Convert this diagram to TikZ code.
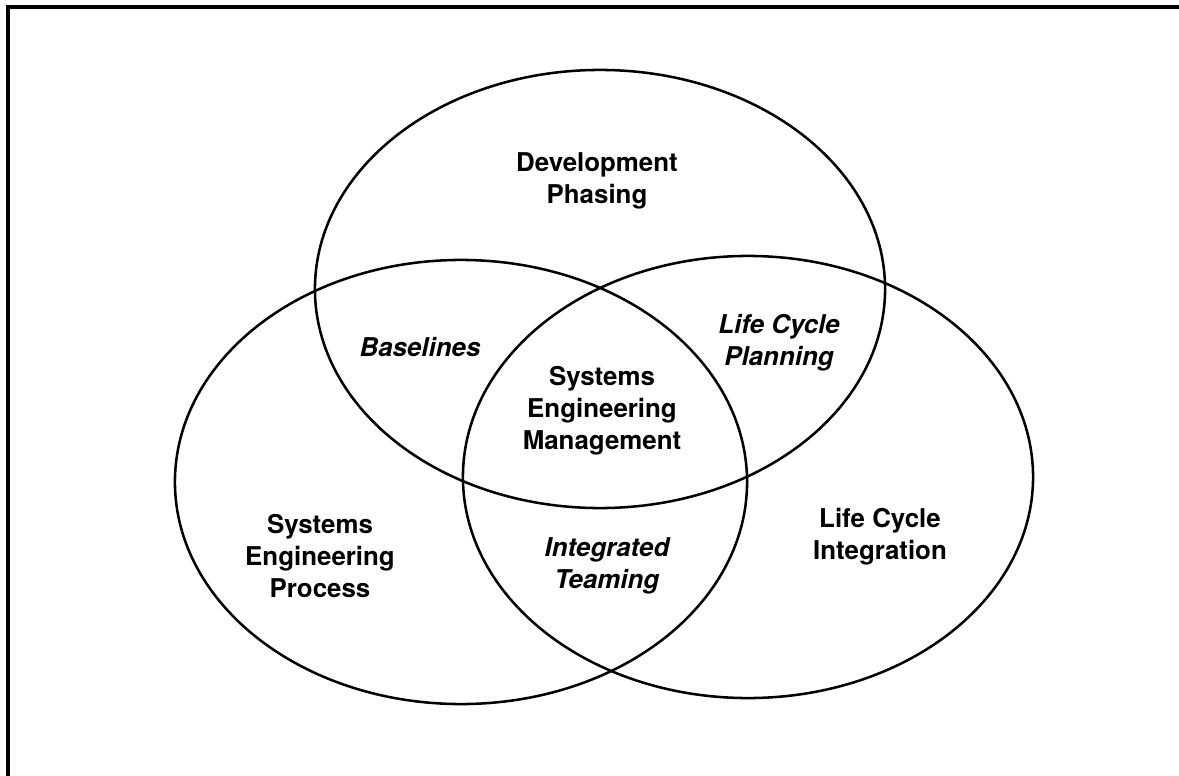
\documentclass[tikz,border=0pt]{standalone}
\usepackage{fontspec}
\setmainfont{TeX Gyre Heros}
\tikzset{
    venn_set/.style = {draw=black, line width=1.8pt},
    frame_line/.style = {draw=black, line width=2.4pt},
    set_label/.style = {align=center, inner sep=0pt,
        font=\fontsize{18.4}{22.7}\selectfont\bfseries},
    overlap_label/.style = {set_label,
        font=\fontsize{18.4}{22.7}\selectfont\bfseries\itshape},
}

\begin{document}
\begin{tikzpicture}[x=0.025cm, y=-0.025cm]
        \useasboundingbox (0,0) rectangle (1179,776);
        % frame, cut off at right and bottom
        \draw [frame_line] (8,776) -- (8,7) -- (1179,7);
        % the three sets
        \coordinate (dev) at (600,289);
        \coordinate (sep) at (461,482);
        \coordinate (lci) at (748,477);
        \draw [venn_set] (dev) ellipse [x radius=7.125cm, y radius=5.475cm];
        \draw [venn_set] (sep) ellipse [x radius=7.15cm, y radius=5.55cm];
        \draw [venn_set] (lci) ellipse [x radius=7.125cm, y radius=5.525cm];
        % labels
        \node [set_label] (phasing) at (597,181) {Development\\Phasing};
        \node [set_label] (process) at (320,556) {Systems\\Engineering\\Process};
        \node [set_label] (integration) at (880,537) {Life Cycle\\Integration};
        \node [overlap_label] (baselines) at (420,347) {Baselines};
        \node [overlap_label] (planning) at (779,343) {Life Cycle\\Planning};
        \node [overlap_label] (teaming) at (607,566) {Integrated\\Teaming};
        \node [set_label] (sem) at (602,411) {Systems\\Engineering\\Management};
\end{tikzpicture}
\end{document}
